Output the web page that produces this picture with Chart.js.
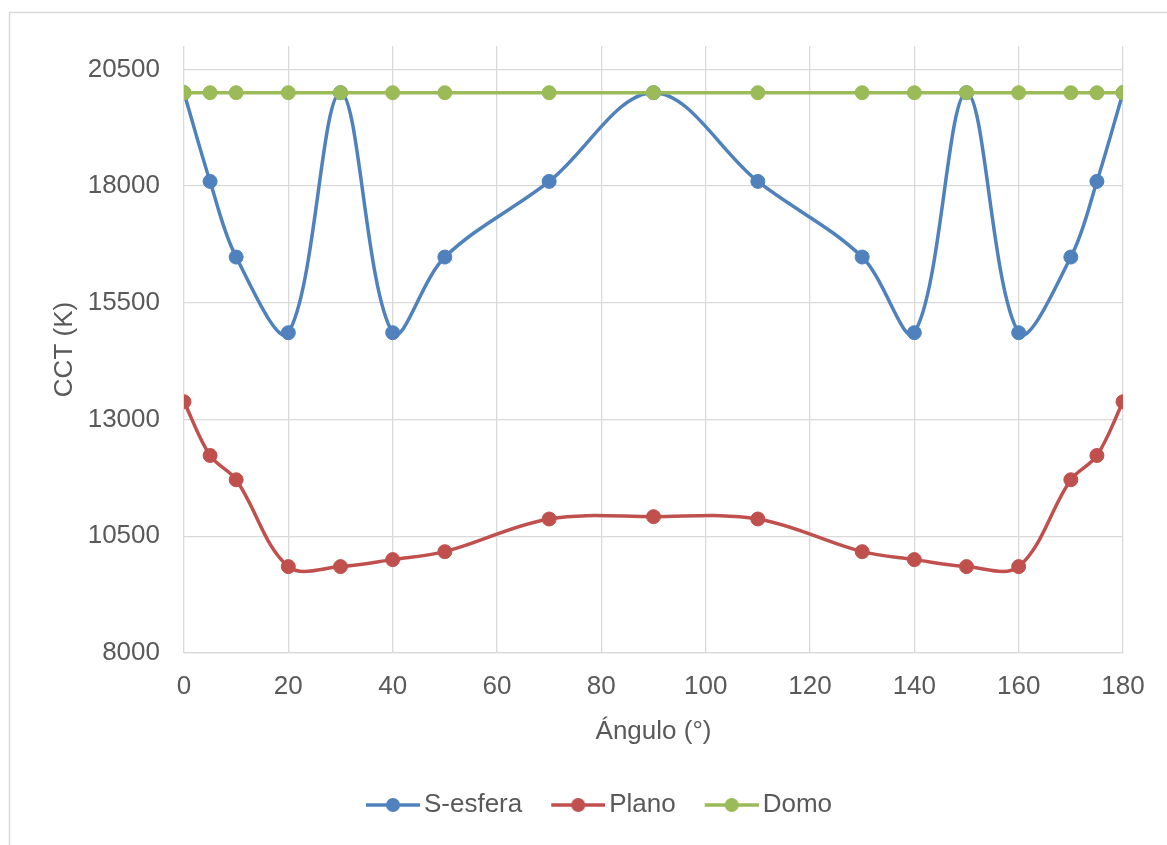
<!DOCTYPE html>
<html>
<head>
<meta charset="utf-8">
<script src="https://cdn.jsdelivr.net/npm/chart.js@4.4.1/dist/chart.umd.min.js"></script>
<style>
  html, body { margin: 0; padding: 0; background: #fff; }
  #myChart { display: block; }
</style>
</head>
<body>
<canvas id="myChart" width="1167" height="845"></canvas>
<script>
const angles = [0, 5, 10, 20, 30, 40, 50, 70, 90, 110, 130, 140, 150, 160, 170, 175, 180];
const sEsfera = [20000, 18100, 16480, 14860, 20000, 14860, 16480, 18100, 20000, 18100, 16480, 14860, 20000, 14860, 16480, 18100, 20000];
const plano = [13380, 12230, 11710, 9850, 9850, 10000, 10170, 10870, 10920, 10870, 10170, 10000, 9850, 9850, 11710, 12230, 13380];
const domo = [20000, 20000, 20000, 20000, 20000, 20000, 20000, 20000, 20000, 20000, 20000, 20000, 20000, 20000, 20000, 20000, 20000];
const seriesNames = ['S-esfera', 'Plano', 'Domo'];
const yTicks = [8000, 10500, 13000, 15500, 18000, 20500];

const colors = ['#4F81BD', '#C0504D', '#9BBB59'];
const textColor = '#595959';
const gridColor = '#D9D9D9';
const fontFamily = "'Liberation Sans', Arial, sans-serif";

function toPoints(values) {
    return angles.map((a, i) => ({ x: a, y: values[i] }));
}

// legend marker: line with a dot, like the Excel legend
function legendMarker(color) {
    const c = document.createElement('canvas');
    c.width = 92;
    c.height = 18;
    const g = c.getContext('2d');
    g.strokeStyle = color;
    g.lineWidth = 3.5;
    g.beginPath();
    g.moveTo(38, 9);
    g.lineTo(92, 9);
    g.stroke();
    g.fillStyle = color;
    g.beginPath();
    g.arc(65, 9, 7, 0, Math.PI * 2);
    g.fill();
    return c;
}

const outerBorder = {
    id: 'outerBorder',
    beforeDraw(chart) {
        const ctx = chart.ctx;
        ctx.save();
        ctx.strokeStyle = gridColor;
        ctx.lineWidth = 1.5;
        ctx.strokeRect(9.5, 12.5, 1400, 1000);
        ctx.restore();
    },
};

const allSeries = [sEsfera, plano, domo];
const data = {
    datasets: allSeries.map((vals, i) => ({
        label: seriesNames[i],
        data: toPoints(vals),
        borderColor: colors[i],
        backgroundColor: colors[i],
        pointBackgroundColor: colors[i],
        pointBorderColor: colors[i],
        borderWidth: 3.5,
        pointRadius: 7,
        pointBorderWidth: 1,
        tension: 0.35,
        order: 3 - i,
    })),
};

const config = {
    type: 'line',
    data: data,
    plugins: [outerBorder],
    options: {
        responsive: false,
        animation: false,
        events: [],
        layout: {
            padding: { left: 46, top: 46, right: 44, bottom: 17 },
        },
        plugins: {
            tooltip: { enabled: false },
            legend: {
                position: 'bottom',
                labels: {
                    usePointStyle: true,
                    pointStyleWidth: 74,
                    padding: 0,
                    color: textColor,
                    font: { family: fontFamily, size: 26 },
                    generateLabels(chart) {
                        return chart.data.datasets.map((ds, i) => ({
                            text: ds.label,
                            pointStyle: legendMarker(ds.borderColor),
                            fillStyle: ds.borderColor,
                            strokeStyle: ds.borderColor,
                            lineWidth: 0,
                            fontColor: textColor,
                            datasetIndex: i,
                            hidden: false,
                        }));
                    },
                },
            },
        },
        scales: {
            x: {
                type: 'linear',
                min: 0,
                max: 180,
                afterFit(scale) { scale.height = 139; },
                grid: { color: gridColor, lineWidth: 1.3, drawTicks: false },
                border: { color: gridColor, width: 1.3 },
                ticks: {
                    stepSize: 20,
                    padding: 18,
                    color: textColor,
                    font: { family: fontFamily, size: 26 },
                },
                title: {
                    display: true,
                    text: 'Ángulo (°)',
                    color: textColor,
                    font: { family: fontFamily, size: 26 },
                    padding: { top: 0, bottom: 45 },
                },
            },
            y: {
                min: 8000,
                max: 21000,
                afterFit(scale) { scale.width = 138; },
                afterBuildTicks(scale) {
                    scale.ticks = yTicks.map(v => ({ value: v }));
                },
                grid: { color: gridColor, lineWidth: 1.3, drawTicks: false },
                border: { display: false },
                ticks: {
                    padding: 24,
                    color: textColor,
                    font: { family: fontFamily, size: 26 },
                    callback: v => String(v),
                },
                title: {
                    display: true,
                    text: 'CCT (K)',
                    color: textColor,
                    font: { family: fontFamily, size: 26 },
                    padding: { top: 3, bottom: 0 },
                },
            },
        },
    },
};

var myChart = new Chart(document.getElementById('myChart'), config);
</script>
</body>
</html>
